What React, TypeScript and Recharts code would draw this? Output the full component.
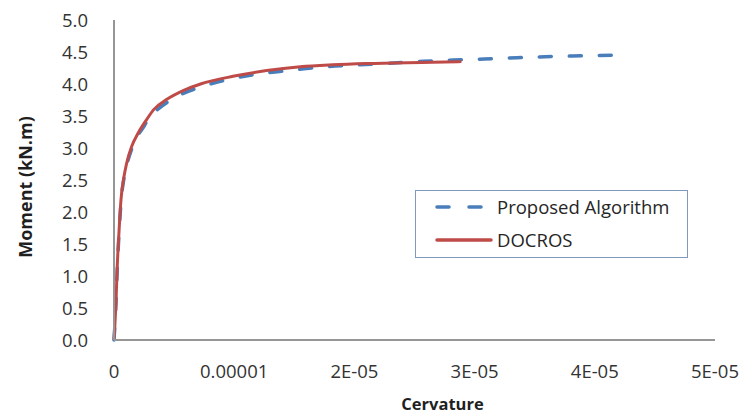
import { Label, Legend, Line, LineChart, XAxis, YAxis } from "recharts"

// curvature in 1e-6 units, moment in kN.m
const proposedCurv = [0, 0.17, 0.28, 0.42, 0.6, 0.85, 1.1, 1.5, 1.9, 2.5, 3.0, 3.6, 5.0, 7.5, 10, 12.5, 15, 17.6, 20.5, 25.3, 28.2, 30.8, 33.5, 36.5, 39, 41.9]
const proposedMoment = [0, 0.6, 1.15, 1.67, 2.19, 2.55, 2.76, 3.0, 3.17, 3.34, 3.5, 3.6, 3.78, 3.97, 4.09, 4.17, 4.22, 4.27, 4.3, 4.35, 4.375, 4.39, 4.41, 4.43, 4.44, 4.45]

const docrosCurv = [0, 0.17, 0.27, 0.41, 0.58, 0.83, 1.05, 1.46, 2.0, 2.7, 3.3, 4.4, 5.8, 7.2, 9.9, 12.7, 15.5, 18.2, 21, 26.5, 28.9]
const docrosMoment = [0, 0.62, 1.15, 1.67, 2.19, 2.55, 2.76, 3.02, 3.23, 3.44, 3.6, 3.76, 3.9, 4.0, 4.12, 4.21, 4.27, 4.3, 4.32, 4.34, 4.35]

const seriesNames = ["Proposed Algorithm", "DOCROS"]
const xTicks = [0, 0.00001, 0.00002, 0.00003, 0.00004, 0.00005]
const xTickLabels = ["0", "0.00001", "2E-05", "3E-05", "4E-05", "5E-05"]
const yTicks = [0, 0.5, 1, 1.5, 2, 2.5, 3, 3.5, 4, 4.5, 5]

const proposed = proposedCurv.map((c, i) => ({ k: c * 1e-6, m: proposedMoment[i] }))
const docros = docrosCurv.map((c, i) => ({ k: c * 1e-6, m: docrosMoment[i] }))

const axisColor = "#969696"
const tickStyle = { fill: "#333", fontSize: 18.5 }

function LegendBox({ payload }: any) {
  const items = [...(payload || [])].sort(
    (a: any, b: any) => seriesNames.indexOf(a.value) - seriesNames.indexOf(b.value)
  )
  return (
    <div
      style={{
        boxSizing: "border-box",
        width: 273,
        height: 68,
        border: "1px solid #7f98bd",
        padding: "0 0 0 19px",
        background: "#fff",
        textAlign: "left",
      }}
    >
      {items.map((item: any, i: number) => (
        <div key={i} style={{ display: "flex", alignItems: "center", height: 33, marginTop: i === 0 ? -1 : 0 }}>
          <svg width={58} height={8} style={{ marginRight: 4 }}>
            <line
              x1={2}
              y1={4}
              x2={56}
              y2={4}
              stroke={item.color}
              strokeWidth={3.5}
              strokeLinecap="round"
              strokeDasharray={item.payload?.strokeDasharray ? "12 20" : undefined}
            />
          </svg>
          <span style={{ fontSize: 18.5, color: "#262626", whiteSpace: "nowrap" }}>{item.value}</span>
        </div>
      ))}
    </div>
  )
}

function YTitle({ viewBox }: any) {
  const cx = 25
  const cy = viewBox.y + viewBox.height / 2 + 7
  return (
    <text
      x={cx}
      y={cy}
      transform={`rotate(-90, ${cx}, ${cy})`}
      textAnchor="middle"
      dominantBaseline="central"
      fontWeight="bold"
      fontSize={18}
      fill="#1f1f1f"
    >
      Moment (kN.m)
    </text>
  )
}

export default function App() {
  return (
    <div style={{ position: "absolute", left: 0, top: 0, background: "#fff" }}>
      <LineChart
        width={740}
        height={416}
        margin={{ top: 20, right: 25, bottom: 0, left: 0 }}
        style={{ fontFamily: "Open Sans" }}
      >
        <XAxis
          type="number"
          dataKey="k"
          domain={[0, 0.00005]}
          ticks={xTicks}
          interval={0}
          tickFormatter={(v, i) => xTickLabels[i]}
          tickLine={false}
          tickSize={0}
          tickMargin={25}
          height={76}
          axisLine={{ stroke: axisColor, strokeWidth: 2 }}
          tick={tickStyle}
        >
          <Label
            value="Cervature"
            position="insideBottom"
            offset={6}
            dx={28}
            fontWeight="bold"
            fontSize={16.5}
            fill="#1f1f1f"
          />
        </XAxis>
        <YAxis
          type="number"
          dataKey="m"
          domain={[0, 5]}
          ticks={yTicks}
          interval={0}
          tickFormatter={(v) => v.toFixed(1)}
          tickLine={false}
          tickSize={0}
          tickMargin={26}
          width={114}
          axisLine={{ stroke: axisColor, strokeWidth: 2 }}
          tick={tickStyle}
        >
          <Label content={YTitle} />
        </YAxis>
        <Legend
          layout="horizontal"
          verticalAlign="middle"
          align="center"
          itemSorter={null as any}
          wrapperStyle={{ left: 415, top: 190, width: 273, height: 68 }}
          content={LegendBox}
        />
        <Line
          data={proposed}
          dataKey="m"
          name={seriesNames[0]}
          type="monotone"
          stroke="#4a7ebb"
          strokeWidth={3.5}
          strokeDasharray="12 18"
          strokeLinecap="round"
          dot={false}
          isAnimationActive={false}
        />
        <Line
          data={docros}
          dataKey="m"
          name={seriesNames[1]}
          type="monotone"
          stroke="#be4b48"
          strokeWidth={3}
          dot={false}
          isAnimationActive={false}
        />
      </LineChart>
    </div>
  )
}
